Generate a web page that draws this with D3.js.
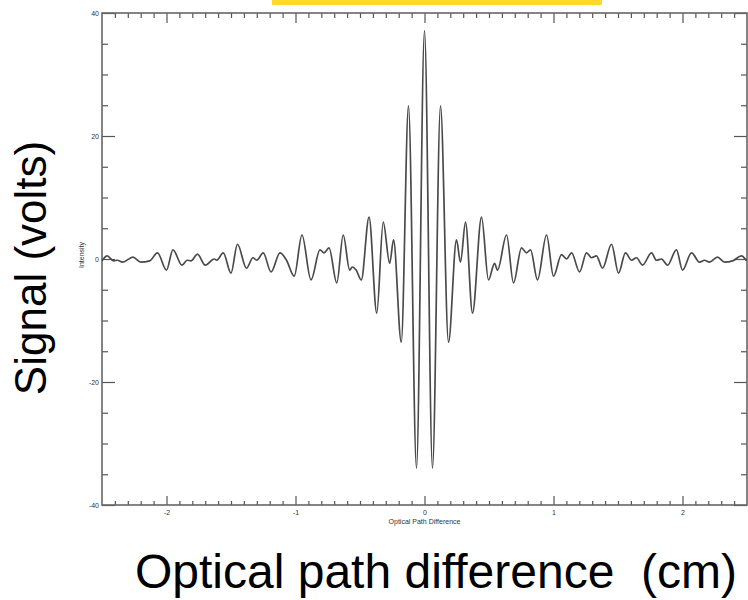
<!DOCTYPE html>
<html lang="en">
<head>
<meta charset="UTF-8">
<title>Interferogram</title>
<style>
  body { margin: 0; background: #fff; }
  svg { display: block; }
  .big { font-family: "Liberation Sans", Arial, sans-serif; fill: #000; }
  .tiny { font-family: "Liberation Sans", Arial, sans-serif; font-size: 7px; fill: #333; }
</style>
</head>
<body>
<svg id="chart" width="748" height="600"></svg>
<script src="https://cdn.jsdelivr.net/npm/d3@7"></script>
<script>
// optical path difference (cm) at peaks / troughs
var opd = [
  -2.50, -2.46, -2.41, -2.38, -2.34, -2.26, -2.20, -2.13, -2.07, -2.00,
  -1.95, -1.88, -1.84, -1.81, -1.76, -1.70, -1.63, -1.61, -1.56, -1.50,
  -1.45, -1.38, -1.33, -1.30, -1.25, -1.19, -1.12, -1.07, -1.01, -0.95,
  -0.88, -0.81, -0.78, -0.74, -0.68, -0.63, -0.58, -0.56, -0.53, -0.49,
  -0.43, -0.37, -0.32, -0.27, -0.24, -0.18, -0.124, -0.062, 0.0, 0.062,
  0.124, 0.186, 0.248, 0.279, 0.318, 0.372, 0.442, 0.496, 0.543, 0.566,
  0.636, 0.690, 0.752, 0.791, 0.822, 0.876, 0.946, 1.000, 1.062, 1.101,
  1.140, 1.202, 1.256, 1.295, 1.333, 1.380, 1.450, 1.504, 1.558, 1.605,
  1.643, 1.690, 1.760, 1.798, 1.837, 1.884, 1.953, 2.000, 2.070, 2.132,
  2.171, 2.209, 2.271, 2.326, 2.388, 2.457, 2.496
];
// signal (volts)
var signal = [
  -0.3, 0.5, -0.3, -0.2, -0.5, 0.3, -0.5, -0.3, 1.0, -1.8,
  1.5, -1.0, -0.2, -0.3, 0.8, -1.0, 0.0, -0.2, 1.0, -2.3,
  2.4, -1.5, 0.2, -0.2, 1.0, -2.1, 1.0, -0.2, -2.8, 3.9,
  -3.4, 1.5, 1.0, 1.8, -3.9, 3.9, -1.8, -1.3, -1.8, -3.4,
  6.8, -8.8, 6.0, -0.7, 3.1, -13.5, 24.9, -34.0, 37.1, -34.0,
  24.9, -13.5, 3.1, -0.5, 6.0, -8.8, 6.8, -3.4, -0.7, -1.8,
  3.9, -3.9, 1.8, 1.0, 1.5, -3.4, 3.9, -2.8, 0.7, 0.0,
  1.0, -2.1, 1.0, 0.2, 0.5, -1.5, 2.4, -2.3, 1.0, -0.2,
  0.2, -1.0, 1.0, -0.2, 0.0, -1.0, 1.5, -1.8, 1.0, -0.5,
  -0.2, -0.5, 0.3, -0.5, -0.3, 0.5, -0.3
];
var xMajorTicks = [-2, -1, 0, 1, 2];
var yMajorTicks = [-40, -20, 0, 20, 40];
var xDomain = [-2.5, 2.5], yDomain = [-40, 40];

var margin = {top: 13, right: 1, bottom: 95, left: 102},
    width = 748 - margin.left - margin.right,
    height = 600 - margin.top - margin.bottom;

var svg = d3.select("#chart");

// yellow strip at the very top
svg.append("rect")
   .attr("x", 272).attr("y", 0)
   .attr("width", 330).attr("height", 5)
   .attr("fill", "#ffd92c");

var g = svg.append("g")
   .attr("transform", "translate(" + margin.left + "," + margin.top + ")");

var x = d3.scaleLinear().domain(xDomain).range([0, width]);
var y = d3.scaleLinear().domain(yDomain).range([height, 0]);

var xMinor = d3.range(-24, 25).map(function (d) { return d / 10; })
   .filter(function (d) { return xMajorTicks.indexOf(d) < 0; });
var yMinor = d3.range(-35, 40, 5)
   .filter(function (d) { return yMajorTicks.indexOf(d) < 0; });

function drawAxis(axis, tx, ty) {
  var a = g.append("g")
     .attr("transform", "translate(" + tx + "," + ty + ")")
     .call(axis);
  a.select(".domain").remove();
  a.selectAll("line").attr("stroke", "#555").attr("stroke-width", 1.2);
  a.selectAll("text")
     .attr("font-size", 7)
     .attr("font-family", "Liberation Sans, Arial, sans-serif")
     .attr("fill", "#333");
  return a;
}

var fmt = function (d) { return String(d); };

// bottom
drawAxis(d3.axisBottom(x).tickValues(xMinor).tickSize(-4).tickFormat(""), 0, height);
drawAxis(d3.axisBottom(x).tickValues(xMajorTicks).tickSize(-9).tickPadding(5).tickFormat(fmt), 0, height);
// top
drawAxis(d3.axisTop(x).tickValues(xMinor).tickSize(-5).tickFormat(""), 0, 0);
drawAxis(d3.axisTop(x).tickValues(xMajorTicks).tickSize(-10).tickFormat(""), 0, 0);
// left
drawAxis(d3.axisLeft(y).tickValues(yMinor).tickSize(-6).tickFormat(""), 0, 0);
drawAxis(d3.axisLeft(y).tickValues(yMajorTicks).tickSize(-13).tickPadding(3).tickFormat(fmt), 0, 0);
// right
drawAxis(d3.axisRight(y).tickValues(yMinor).tickSize(-6).tickFormat(""), width, 0);
drawAxis(d3.axisRight(y).tickValues(yMajorTicks).tickSize(-13).tickFormat(""), width, 0);

// frame
g.append("rect")
   .attr("width", width).attr("height", height)
   .attr("fill", "none")
   .attr("stroke", "#666")
   .attr("stroke-width", 1.6);

var line = d3.line()
   .x(function (d, i) { return x(opd[i]); })
   .y(function (d) { return y(d); })
   .curve(d3.curveMonotoneX);

g.append("path")
   .datum(signal)
   .attr("d", line)
   .attr("fill", "none")
   .attr("stroke", "#4a4a4a")
   .attr("stroke-width", 1.7);

// tiny original axis titles
g.append("text")
   .attr("fill", "#333")
   .attr("font-size", 7)
   .attr("font-family", "Liberation Sans, Arial, sans-serif")
   .attr("x", width / 2).attr("y", height + 19)
   .attr("text-anchor", "middle")
   .text("Optical Path Difference");

g.append("text")
   .attr("fill", "#333")
   .attr("font-size", 7)
   .attr("font-family", "Liberation Sans, Arial, sans-serif")
   .attr("transform", "translate(-18," + (height / 2 - 4) + ") rotate(-90)")
   .attr("text-anchor", "middle")
   .text("Intensity");

// large titles
svg.append("text")
   .attr("class", "big")
   .attr("x", 436).attr("y", 588)
   .attr("text-anchor", "middle")
   .style("font-size", "48px")
   .style("white-space", "pre")
   .text("Optical path difference  (cm)");

svg.append("text")
   .attr("class", "big")
   .attr("transform", "translate(46,268) rotate(-90)")
   .attr("text-anchor", "middle")
   .style("font-size", "44px")
   .text("Signal (volts)");
</script>
</body>
</html>
